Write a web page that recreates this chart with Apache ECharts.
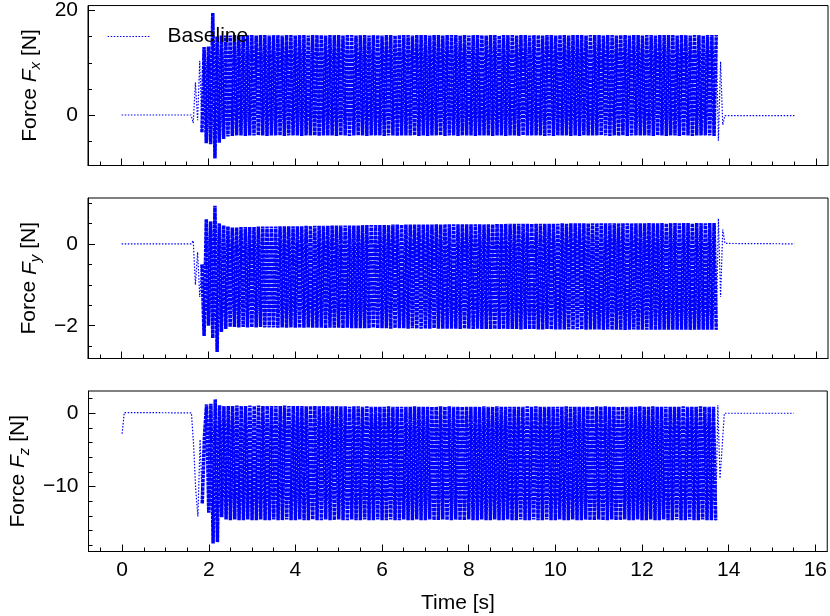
<!DOCTYPE html>
<html><head><meta charset="utf-8">
<script src="https://cdn.jsdelivr.net/npm/echarts@6/dist/echarts.min.js"></script>
<style>html,body{margin:0;padding:0;background:#fff}#c{width:830px;height:616px}</style>
</head><body><div id="c"></div>
<script>
const FONT = '"Liberation Sans", Arial, Helvetica, sans-serif';
// sampling of the active (oscillating) phase
const T0 = 1.65, DT = 0.05;

// ---- Force Fx ----
const fxPre = [[0, 0], [1.6, 0]];
const fxOsc = [
 -1.5,6.2,-1.0,10.4,-3.3,13.0,-5.4,13.1,-5.6,19.5,-8.3,15.0,-5.3,15.2,-4.6,15.2,-4.1,
 15.2,-4.0,15.3,-3.9,15.2,-3.9,15.3,-4.0,15.3,-3.9,
 15.3,-3.9,15.2,-3.9,15.3,-3.9,15.3,-4.0,15.2,-3.9,
 15.3,-3.9,15.3,-3.9,15.2,-4.0,15.3,-3.9,15.3,-3.9,
 15.2,-3.9,15.3,-4.0,15.3,-3.9,15.2,-3.9,15.3,-3.9,
 15.3,-4.0,15.3,-3.9,15.2,-3.9,15.3,-3.9,15.3,-4.0,
 15.3,-3.9,15.2,-3.9,15.3,-4.0,15.3,-3.9,15.2,-3.9,
 15.3,-3.9,15.3,-4.0,15.2,-3.9,15.3,-3.9,15.3,-3.9,
 15.2,-4.0,15.3,-3.9,15.3,-3.9,15.2,-4.0,15.3,-3.9,
 15.3,-3.9,15.3,-3.9,15.2,-3.9,15.3,-4.0,15.3,-3.9,
 15.3,-4.0,15.2,-3.9,15.3,-3.9,15.3,-3.9,15.2,-4.0,
 15.3,-3.9,15.3,-3.9,15.3,-4.0,15.2,-3.9,15.3,-3.9,
 15.2,-3.9,15.3,-4.0,15.3,-3.9,15.3,-3.9,15.2,-3.9,
 15.3,-4.0,15.3,-3.9,15.2,-3.9,15.3,-4.0,15.3,-3.9,
 15.3,-3.9,15.2,-4.0,15.3,-3.9,15.3,-3.9,15.2,-3.9,
 15.3,-3.9,15.3,-3.9,15.2,-4.0,15.3,-3.9,15.3,-4.0,
 15.2,-3.9,15.3,-3.9,15.3,-3.9,15.2,-4.0,15.3,-3.9,
 15.3,-4.0,15.3,-3.9,15.2,-3.9,15.3,-3.9,15.3,-3.9,
 15.3,-3.9,15.2,-3.9,15.3,-4.0,15.3,-3.9,15.2,-4.0,
 15.3,-3.9,15.3,-4.0,15.2,-3.9,15.3,-3.9,15.3,-3.9,
 15.2,-3.9,15.3,-3.9,15.3,-4.0,15.2,-3.9,15.3,-3.9,
 15.3,-4.0,15.3,-3.9,15.3,-3.9,15.2,-4.0,15.3,-3.9,
 15.3,-3.9,15.2,-4.0,15.3,-3.9,15.3,-3.9,15.2,-3.9,
 15.3,-3.9,15.3,-4.0,
 15.3,-4.9,10.2,-1.9
];
const fxPost = [[13.9, -0.1], [15.5, -0.1]];

// ---- Force Fy ----
const fyPre = [[0, 0], [1.6, 0]];
const fyOsc = [
 0.08,-1.0,-0.2,-1.3,-0.5,-2.25,0.6,-2.0,0.55,-2.3,0.93,-2.64,0.5,-2.15,0.45,-2.08,0.42,
 -2.03,0.40,-2.03,0.40,-2.04,0.41,-2.03,0.41,-2.04,0.41,
 -2.04,0.41,-2.04,0.42,-2.03,0.42,-2.04,0.42,-2.04,0.42,
 -2.04,0.42,-2.05,0.43,-2.04,0.43,-2.05,0.43,-2.04,0.43,
 -2.05,0.43,-2.05,0.43,-2.05,0.44,-2.04,0.44,-2.05,0.44,
 -2.05,0.44,-2.05,0.44,-2.06,0.44,-2.05,0.45,-2.05,0.45,
 -2.05,0.45,-2.06,0.45,-2.05,0.45,-2.06,0.45,-2.06,0.45,
 -2.06,0.46,-2.06,0.46,-2.06,0.46,-2.05,0.46,-2.06,0.46,
 -2.06,0.46,-2.06,0.46,-2.07,0.47,-2.06,0.47,-2.06,0.47,
 -2.06,0.47,-2.07,0.47,-2.06,0.47,-2.07,0.47,-2.07,0.47,
 -2.07,0.47,-2.07,0.47,-2.06,0.48,-2.07,0.47,-2.07,0.48,
 -2.07,0.48,-2.07,0.48,-2.07,0.48,-2.08,0.48,-2.07,0.48,
 -2.07,0.48,-2.08,0.48,-2.07,0.48,-2.08,0.48,-2.08,0.48,
 -2.08,0.48,-2.08,0.49,-2.08,0.48,-2.08,0.49,-2.08,0.49,
 -2.08,0.49,-2.08,0.49,-2.09,0.49,-2.08,0.49,-2.08,0.49,
 -2.08,0.49,-2.09,0.49,-2.09,0.49,-2.08,0.49,-2.09,0.49,
 -2.09,0.49,-2.09,0.50,-2.09,0.49,-2.09,0.50,-2.09,0.50,
 -2.09,0.50,-2.09,0.50,-2.10,0.50,-2.09,0.50,-2.09,0.50,
 -2.09,0.50,-2.10,0.50,-2.09,0.50,-2.10,0.50,-2.10,0.50,
 -2.10,0.50,-2.10,0.50,-2.10,0.50,-2.09,0.50,-2.10,0.50,
 -2.10,0.50,-2.10,0.51,-2.10,0.50,-2.10,0.50,-2.10,0.51,
 -2.10,0.50,-2.10,0.51,-2.10,0.51,-2.10,0.50,-2.10,0.51,
 -2.10,0.51,-2.10,0.50,-2.10,0.51,-2.10,0.51,-2.10,0.50,
 -2.10,0.51,-2.10,0.51,
 -2.10,0.62,-1.3,0.35
];
const fyPost = [[13.9, 0.01], [15.5, 0.0]];

// ---- Force Fz ----
const fzPre = [[0, -2.8], [0.05, 0.1], [1.6, 0.05]];
const fzOsc = [
 -4.3,-10.5,-14.1,-3.6,-12.3,-3.2,1.2,-13.6,1.3,-17.8,1.9,-17.6,1.1,-14.2,1.0,-14.5,1.0,
 -14.6,1.0,-14.5,1.05,-14.6,1.0,-14.6,1.0,-14.5,1.05,
 -14.6,1.0,-14.6,1.05,-14.5,1.0,-14.6,1.0,-14.6,1.0,
 -14.5,1.0,-14.6,1.0,-14.6,1.05,-14.5,1.0,-14.6,1.0,
 -14.6,1.0,-14.5,1.0,-14.6,0.95,-14.6,1.0,-14.5,1.0,
 -14.6,0.95,-14.6,1.0,-14.5,0.95,-14.6,0.95,-14.6,1.0,
 -14.5,0.95,-14.6,0.95,-14.6,0.9,-14.5,0.95,-14.6,0.95,
 -14.6,0.9,-14.5,0.95,-14.6,0.9,-14.6,0.9,-14.5,0.9,
 -14.6,0.9,-14.6,0.95,-14.5,0.9,-14.6,0.9,-14.6,0.9,
 -14.5,0.9,-14.6,0.9,-14.6,0.95,-14.5,0.9,-14.6,0.9,
 -14.6,0.9,-14.5,0.9,-14.6,0.9,-14.6,0.95,-14.5,0.9,
 -14.6,0.95,-14.6,0.9,-14.5,0.9,-14.6,0.9,-14.6,0.9,
 -14.5,0.9,-14.6,0.9,-14.6,0.9,-14.5,0.95,-14.6,0.9,
 -14.6,0.9,-14.5,0.95,-14.6,0.9,-14.6,0.9,-14.5,0.9,
 -14.6,0.9,-14.6,0.9,-14.5,0.9,-14.6,0.95,-14.6,0.9,
 -14.5,0.95,-14.6,0.9,-14.6,0.9,-14.5,0.9,-14.6,0.9,
 -14.6,0.9,-14.5,0.9,-14.6,0.95,-14.6,0.9,-14.5,0.9,
 -14.6,0.9,-14.6,0.9,-14.5,0.9,-14.6,0.9,-14.6,0.95,
 -14.5,0.9,-14.6,0.95,-14.6,0.9,-14.5,0.9,-14.6,0.9,
 -14.6,0.9,-14.5,0.9,-14.6,0.9,-14.6,0.9,-14.5,0.95,
 -14.6,0.9,-14.6,0.9,-14.5,0.95,-14.6,0.9,-14.6,0.9,
 -14.5,0.9,-14.6,0.9,-14.6,0.9,-14.5,0.9,-14.6,0.95,
 -14.6,0.9,-14.5,0.9,-14.6,0.9,-14.6,0.95,-14.5,0.9,
 -14.6,0.9,-14.6,0.9,
 -14.6,1.1,-8.9,-4.5
];
const fzPost = [[13.9, 0.0], [15.5, 0.0]];

// ---- axes / ticks ----
const xRange = [-0.775, 16.275];
const xMajor = [0, 2, 4, 6, 8, 10, 12, 14, 16];
const xMinor = [-0.5, 0.5, 1, 1.5, 2.5, 3, 3.5, 4.5, 5, 5.5, 6.5, 7, 7.5, 8.5, 9, 9.5,
                10.5, 11, 11.5, 12.5, 13, 13.5, 14.5, 15, 15.5];
const yRanges = [[-9.66, 20.95], [-2.80, 1.12], [-18.88, 3.04]];
const yMajor = [[0, 20], [-2, 0], [-10, 0]];
const yMinor = [[-5, 5, 10, 15], [-2.5, -1.5, -1, -0.5, 0.5, 1],
                [-18, -16, -14, -12, -8, -6, -4, -2, 2]];
const subs = ['x', 'y', 'z'];
const seriesName = 'Baseline';
const xTitle = 'Time [s]';

// index range of the dense, steady oscillation within the *Osc arrays
const DENSE_FROM = 4, DENSE_TO = 241;

function build(pre, osc, post) {
  const full = pre.concat(osc.map((v, i) => [+(T0 + DT * i).toFixed(2), v]), post);
  const a = pre.length + DENSE_FROM, b = pre.length + DENSE_TO;
  return [full.slice(0, a + 1), full.slice(a, b + 1), full.slice(b)];
}
const datasets = [build(fxPre, fxOsc, fxPost), build(fyPre, fyOsc, fyPost), build(fzPre, fzOsc, fzPost)];

const tops = [5, 198, 391];
const grids = tops.map(t => ({left: 88, width: 740, top: t, height: 160.5, show: true,
  borderColor: '#000', borderWidth: 1, backgroundColor: 'transparent', containLabel: false}));

const minus = v => String(v).replace('-', '\u2212');
const txt = {fontFamily: FONT, fontSize: 21, color: '#000'};

const xAxes = [], yAxes = [];
for (let g = 0; g < 3; g++) {
  xAxes.push({type: 'value', gridIndex: g, position: 'bottom', min: xRange[0], max: xRange[1],
    axisLine: {show: true, onZero: false, lineStyle: {color: '#000', width: 1}},
    axisTick: {show: true, inside: true, length: 7, customValues: xMajor, lineStyle: {color: '#000', width: 1}},
    axisLabel: Object.assign({show: g === 2, customValues: xMajor, margin: 8, formatter: minus}, txt),
    splitLine: {show: false},
    name: g === 2 ? xTitle : '', nameLocation: 'middle', nameGap: 41, nameTextStyle: txt});
  xAxes.push({type: 'value', gridIndex: g, position: 'bottom', min: xRange[0], max: xRange[1],
    axisLine: {show: false, onZero: false},
    axisTick: {show: true, inside: true, length: 4, customValues: xMinor, lineStyle: {color: '#000', width: 1}},
    axisLabel: {show: false}, splitLine: {show: false}});
  yAxes.push({type: 'value', gridIndex: g, position: 'left', min: yRanges[g][0], max: yRanges[g][1],
    axisLine: {show: true, onZero: false, lineStyle: {color: '#000', width: 1}},
    axisTick: {show: true, inside: true, length: 7, customValues: yMajor[g], lineStyle: {color: '#000', width: 1}},
    axisLabel: Object.assign({show: true, customValues: yMajor[g], margin: 10, formatter: minus,
      padding: [6, 0, 0, 0]}, txt),
    splitLine: {show: false},
    name: '{a|Force }{b|F}{c|' + subs[g] + '}{a| [N]}', nameLocation: 'middle', nameGap: 45,
    nameTextStyle: Object.assign({}, txt, {rich: {
      a: Object.assign({}, txt, {verticalAlign: 'top', lineHeight: 22}),
      b: Object.assign({}, txt, {fontStyle: 'italic', verticalAlign: 'top', lineHeight: 22}),
      c: Object.assign({}, txt, {fontSize: 15, fontStyle: 'italic', verticalAlign: 'top', lineHeight: 15, padding: [9, 0, 0, 0]})
    }})});
  yAxes.push({type: 'value', gridIndex: g, position: 'left', min: yRanges[g][0], max: yRanges[g][1],
    axisLine: {show: false, onZero: false},
    axisTick: {show: true, inside: true, length: 4, customValues: yMinor[g], lineStyle: {color: '#000', width: 1}},
    axisLabel: {show: false}, splitLine: {show: false}});
}

const thin = {color: '#0000ff', width: 1.2, type: [1.5, 1.6]};
const dense = {color: '#0000ff', width: 3.5, type: [3.5, 0.7], join: 'bevel', cap: 'butt'};
const series = [];
datasets.forEach((parts, g) => {
  parts.forEach((d, k) => {
    series.push({
      type: 'line', name: seriesName, xAxisIndex: 2 * g, yAxisIndex: 2 * g, data: d,
      symbol: 'none', showSymbol: false, sampling: null, smooth: false, z: 2,
      lineStyle: k === 1 ? dense : thin,
      itemStyle: {color: '#0000ff'}, emphasis: {disabled: true}
    });
  });
});

const chart = echarts.init(document.getElementById('c'), null, {renderer: 'canvas'});
chart.setOption({
  animation: false,
  backgroundColor: '#fff',
  grid: grids, xAxis: xAxes, yAxis: yAxes, series: series,
  legend: {data: [seriesName], left: 107, top: 26, padding: 0,
    itemWidth: 43, itemHeight: 14, itemGap: 0,
    lineStyle: thin,
    itemStyle: {color: 'rgba(0,0,0,0)', borderWidth: 0, opacity: 0},
    textStyle: Object.assign({}, txt, {padding: [0, 0, 0, 12]})}
});
</script></body></html>
